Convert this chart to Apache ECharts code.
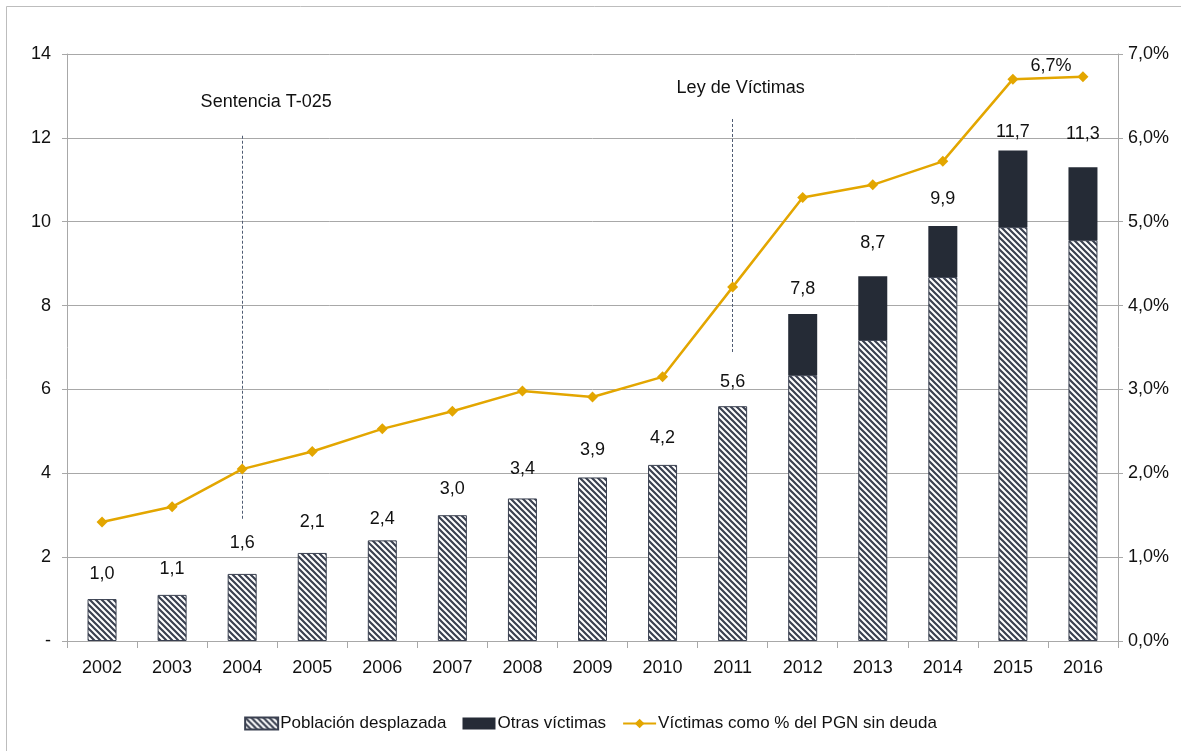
<!DOCTYPE html>
<html><head><meta charset="utf-8">
<script src="https://cdn.jsdelivr.net/npm/echarts@6/dist/echarts.min.js"></script>
<style>html,body{margin:0;padding:0;background:#fff}#c{width:1181px;height:751px}</style>
</head><body><div id="c"></div>
<script>
// ---- data ----
const years = ['2002','2003','2004','2005','2006','2007','2008','2009','2010','2011','2012','2013','2014','2015','2016'];
const poblacionDesplazada = [1.0, 1.1, 1.6, 2.1, 2.4, 3.0, 3.4, 3.9, 4.2, 5.6, 6.34, 7.18, 8.68, 9.87, 9.56];
const otrasVictimas      = [0, 0, 0, 0, 0, 0, 0, 0, 0, 0, 1.46, 1.52, 1.22, 1.83, 1.74];
const pctPGN             = [1.42, 1.60, 2.05, 2.26, 2.53, 2.74, 2.98, 2.91, 3.15, 4.22, 5.29, 5.44, 5.72, 6.70, 6.73];
const leftAxis  = {min: 0, max: 14, interval: 2};
const rightAxis = {min: 0, max: 7, interval: 1};
const annotations = [
  {text: 'Sentencia T-025', year: '2004', from: 12.05, to: 2.9, textAt: 12.85},
  {text: 'Ley de Víctimas', year: '2011', from: 12.45, to: 6.85, textAt: 13.2}
];
const pctLabelIndex = 15 - 1;

// ---- styling ----
const FONT = "'Liberation Sans Narrow','Arial Narrow','Liberation Sans',Arial,sans-serif";
const DARK = '#252b36';
const GOLD = '#e3a600';
const GRID = '#a8a8a8';
const labelLift = [25,26,31,31,21,26,29,27,27,24,25,33,27,18,33];
const annOffsetX = [24, 8];

function stripePattern() {
  const s = 6;
  const cv = document.createElement('canvas');
  cv.width = s; cv.height = s;
  const g = cv.getContext('2d');
  g.fillStyle = '#ffffff'; g.fillRect(0,0,s,s);
  g.strokeStyle = '#3a4050'; g.lineWidth = 2.2;
  g.beginPath();
  g.moveTo(-1,-1); g.lineTo(s+1,s+1);
  g.moveTo(-1,s-1); g.lineTo(1,s+1);
  g.moveTo(s-1,-1); g.lineTo(s+1,1);
  g.stroke();
  return {image: cv, repeat: 'repeat'};
}
const fmt1 = v => v.toFixed(1).replace('.', ',');
const totals = poblacionDesplazada.map((v,i) => +(v + otrasVictimas[i]).toFixed(2));

const chart = echarts.init(document.getElementById('c'), null, {renderer: 'canvas'});
const txt = {fontFamily: FONT, fontSize: 18, color: '#111'};

chart.setOption({
  animation: false,
  backgroundColor: '#fff',
  textStyle: {fontFamily: FONT},
  graphic: [{type: 'rect', shape: {x: 6.5, y: 6.5, width: 1200, height: 800}, style: {fill: 'none', stroke: '#bdbdbd', lineWidth: 1}, silent: true}],
  grid: {left: 67, right: 63, top: 54, bottom: 110},
  legend: {
    bottom: 14, left: 'center', itemWidth: 33, itemHeight: 12, itemGap: 16,
    textStyle: Object.assign({}, txt, {fontSize: 17, padding: [0,0,0,-3]}),
    data: [
      {name: 'Población desplazada', icon: 'rect'},
      {name: 'Otras víctimas', icon: 'rect'},
      {name: 'Víctimas como % del PGN sin deuda'}
    ]
  },
  xAxis: {
    type: 'category', data: years, boundaryGap: true,
    axisLine: {lineStyle: {color: GRID, width: 1}},
    axisTick: {show: true, alignWithLabel: false, length: 7, lineStyle: {color: GRID}},
    axisLabel: Object.assign({}, txt, {margin: 18})
  },
  yAxis: [
    {
      type: 'value', min: leftAxis.min, max: leftAxis.max, interval: leftAxis.interval,
      axisLine: {show: true, lineStyle: {color: GRID}},
      axisTick: {show: true, length: 5, lineStyle: {color: GRID}},
      splitLine: {show: true, lineStyle: {color: GRID, width: 1}},
      axisLabel: Object.assign({}, txt, {margin: 16, formatter: v => v === 0 ? '-' : String(v)})
    },
    {
      type: 'value', min: rightAxis.min, max: rightAxis.max, interval: rightAxis.interval, position: 'right',
      axisLine: {show: true, lineStyle: {color: GRID}},
      axisTick: {show: true, length: 5, lineStyle: {color: GRID}},
      splitLine: {show: false},
      axisLabel: Object.assign({}, txt, {margin: 10, formatter: v => v.toFixed(1).replace('.', ',') + '%'})
    }
  ],
  series: [
    {
      name: 'Población desplazada', type: 'bar', stack: 'v', barWidth: 29,
      data: poblacionDesplazada,
      itemStyle: {color: stripePattern(), borderColor: '#3a4050', borderWidth: 1},
      markLine: {
        silent: true, symbol: 'none', animation: false,
        lineStyle: {color: '#4f5b72', type: [3, 2], width: 1},
        label: {show: false},
        data: annotations.map(a => [{coord: [a.year, a.from]}, {coord: [a.year, a.to]}])
      },
      markPoint: {
        silent: true, symbol: 'circle', symbolSize: 1, itemStyle: {color: 'rgba(0,0,0,0)'},
        data: annotations.map((a, i) => ({
          coord: [a.year, a.textAt],
          label: Object.assign({}, txt, {show: true, position: 'inside', offset: [annOffsetX[i], 0], formatter: a.text})
        }))
      }
    },
    {
      name: 'Otras víctimas', type: 'bar', stack: 'v', barWidth: 29,
      data: otrasVictimas.map((v, i) => ({
        value: v,
        label: Object.assign({}, txt, {show: true, position: 'top', distance: labelLift[i] - 9, formatter: () => fmt1(totals[i])})
      })),
      itemStyle: {color: DARK, borderColor: DARK, borderWidth: 0}
    },
    {
      name: 'Víctimas como % del PGN sin deuda', type: 'line', yAxisIndex: 1,
      data: pctPGN.map((v, i) => i === pctLabelIndex ? {
        value: v,
        label: Object.assign({}, txt, {show: true, position: 'inside', offset: [-32, -11], formatter: () => fmt1(v) + '%'})
      } : v),
      symbol: 'diamond', symbolSize: 11, showSymbol: true,
      lineStyle: {color: GOLD, width: 2.5},
      itemStyle: {color: GOLD},
      z: 5
    }
  ]
});
</script>
</body></html>
